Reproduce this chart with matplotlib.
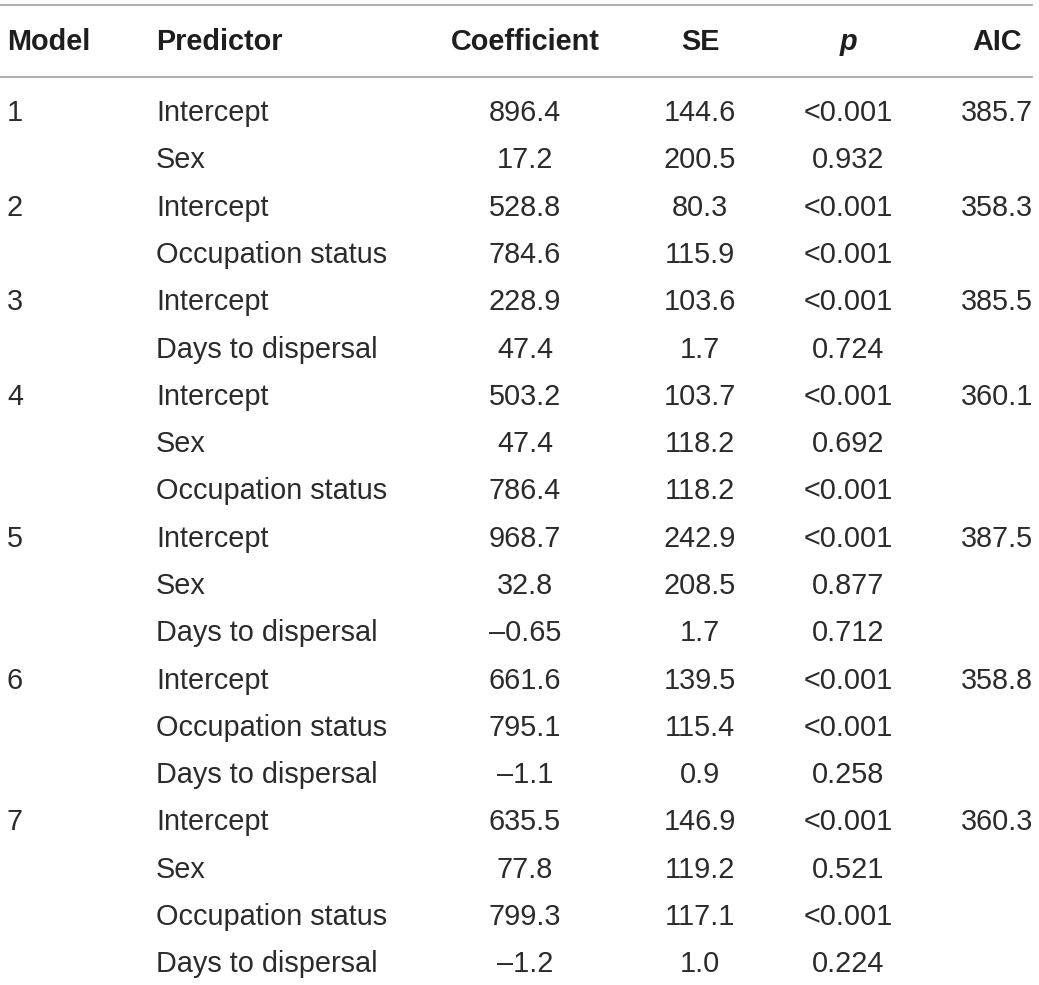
import matplotlib
matplotlib.use("Agg")
import matplotlib.pyplot as plt

columns = ["Model", "Predictor", "Coefficient", "SE", "p", "AIC"]
models = ["1", "", "2", "", "3", "", "4", "", "", "5", "", "", "6", "", "", "7", "", "", ""]
predictors = ["Intercept", "Sex", "Intercept", "Occupation status", "Intercept",
              "Days to dispersal", "Intercept", "Sex", "Occupation status",
              "Intercept", "Sex", "Days to dispersal", "Intercept",
              "Occupation status", "Days to dispersal", "Intercept", "Sex",
              "Occupation status", "Days to dispersal"]
coefs = ["896.4", "17.2", "528.8", "784.6", "228.9", "47.4", "503.2", "47.4",
         "786.4", "968.7", "32.8", "\u20130.65", "661.6", "795.1", "\u20131.1",
         "635.5", "77.8", "799.3", "\u20131.2"]
ses = ["144.6", "200.5", "80.3", "115.9", "103.6", "1.7", "103.7", "118.2",
       "118.2", "242.9", "208.5", "1.7", "139.5", "115.4", "0.9", "146.9",
       "119.2", "117.1", "1.0"]
pvals = ["<0.001", "0.932", "<0.001", "<0.001", "<0.001", "0.724", "<0.001",
         "0.692", "<0.001", "<0.001", "0.877", "0.712", "<0.001", "<0.001",
         "0.258", "<0.001", "0.521", "<0.001", "0.224"]
aics = ["385.7", "", "358.3", "", "385.5", "", "360.1", "", "", "387.5", "", "",
        "358.8", "", "", "360.3", "", "", ""]

W, H = 1039, 985
fig = plt.figure(figsize=(W / 100, H / 100), dpi=100)
ax = fig.add_axes([0, 0, 1, 1])
ax.set_xlim(0, W)
ax.set_ylim(H, 0)
ax.axis("off")

plt.rcParams['font.family'] = ['Liberation Sans', 'DejaVu Sans']
txt = "#2b2b2b"
fs = 20.8

# column x positions and alignment
col_x = [7, 156, 525, 700, 848, 997]
col_ha = ["left", "left", "center", "center", "center", "center"]

# rules
ax.plot([0, 1032], [5, 5], color="#a8a8a8", lw=1.3)
ax.plot([0, 1032], [77, 77], color="#a8a8a8", lw=1.3)

# header
for i, c in enumerate(columns):
    style = "italic" if c == "p" else "normal"
    ax.text(col_x[i], 42, c, ha=col_ha[i], va="center", fontsize=fs,
            fontweight="bold", style=style, color="#1e1e1e")

# body
y0, dy = 113, 47.3
cols = [models, predictors, coefs, ses, pvals, aics]
for r in range(len(predictors)):
    y = y0 + r * dy
    for i, col in enumerate(cols):
        if col[r]:
            ax.text(col_x[i], y, col[r], ha=col_ha[i], va="center",
                    fontsize=fs, color=txt)

fig.savefig("out.png", dpi=100)
